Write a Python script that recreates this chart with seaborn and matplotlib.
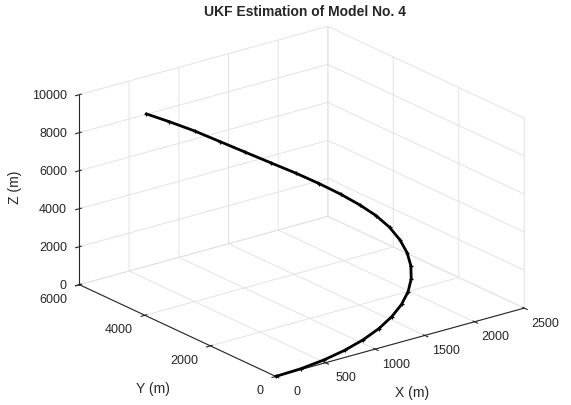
import matplotlib
matplotlib.use("Agg")
import matplotlib.pyplot as plt
import seaborn as sns

# Estimated trajectory (m)
x_pos = [0, 256, 507, 751, 983, 1199, 1397, 1573, 1725, 1850, 1945, 2011, 2045,
         2047, 2017, 1956, 1864, 1743, 1595, 1422, 1237, 1040, 830, 610, 400]
y_pos = [0, 20, 81, 181, 318, 491, 698, 933, 1195, 1479, 1780, 2094, 2416,
         2741, 3063, 3379, 3682, 3968, 4233, 4472, 4683, 4861, 5003, 5108, 5174]
z_pos = [0, 16, 64, 144, 256, 399, 575, 782, 1022, 1293, 1597, 1932, 2300,
         2699, 3100, 3500, 3950, 4450, 5000, 5600, 6250, 6950, 7700, 8420, 9080]

x_ticks = [0, 500, 1000, 1500, 2000, 2500]
y_ticks = [0, 2000, 4000, 6000]
z_ticks = [0, 2000, 4000, 6000, 8000, 10000]

sns.set_style("white")
plt.rcParams["font.family"] = ["Liberation Sans", "DejaVu Sans"]

W, H = 571, 406
fig = plt.figure(figsize=(W / 100, H / 100), dpi=100)
ax = fig.add_subplot(projection="3d", proj_type="ortho")
ax.set_position([0.019, -0.012, 1.0, 1.0])
ax.view_init(elev=21, azim=-127.5)
ax.set_box_aspect((1, 1.03, 0.65), zoom=1.18)

ax.plot(x_pos, y_pos, z_pos, color="black", lw=2.0,
        marker="+", ms=3, mew=0.9)

ax.set_xlim(0, 2500)
ax.set_ylim(0, 6000)
ax.set_zlim(0, 10000)
ax.set_xticks(x_ticks)
ax.set_yticks(y_ticks)
ax.set_zticks(z_ticks)
ax.set_xticklabels([])
ax.set_yticklabels([])
ax.set_zticklabels([])

for axis in (ax.xaxis, ax.yaxis, ax.zaxis):
    axis.set_pane_color((1, 1, 1, 0))
    axis.pane.set_edgecolor("#e3e3e3")
    axis._axinfo["grid"]["color"] = "#e3e3e3"
    axis._axinfo["grid"]["linewidth"] = 0.7
    axis._axinfo["tick"]["color"] = "#262626"
    axis.line.set_color("#262626")
    axis.line.set_linewidth(0.8)

# tick labels placed like MATLAB does (offsets in data units)
tk = dict(fontsize=9, color="#262626", va="center")
for v in x_ticks:
    ax.text(v, -640, -250, str(v), ha="center", **tk)
for v in y_ticks:
    ax.text(-125, v, -550, str(v), ha="right", **tk)
for v in z_ticks:
    ax.text(-80, 6140, v, str(v), ha="right", **tk)

# axis labels stay upright like in the reference
lab = dict(fontsize=10, color="#262626", ha="center", va="center")
fig.text(412 / W, 1 - 393 / H, "X (m)", **lab)
fig.text(153 / W, 1 - 389 / H, "Y (m)", **lab)
fig.text(15 / W, 1 - 187 / H, "Z (m)", rotation=90, **lab)
fig.text(305 / W, 1 - 12 / H, "UKF Estimation of Model No. 4",
         fontsize=10, fontweight="bold", ha="center", va="center")

fig.savefig("out.png", dpi=100)
